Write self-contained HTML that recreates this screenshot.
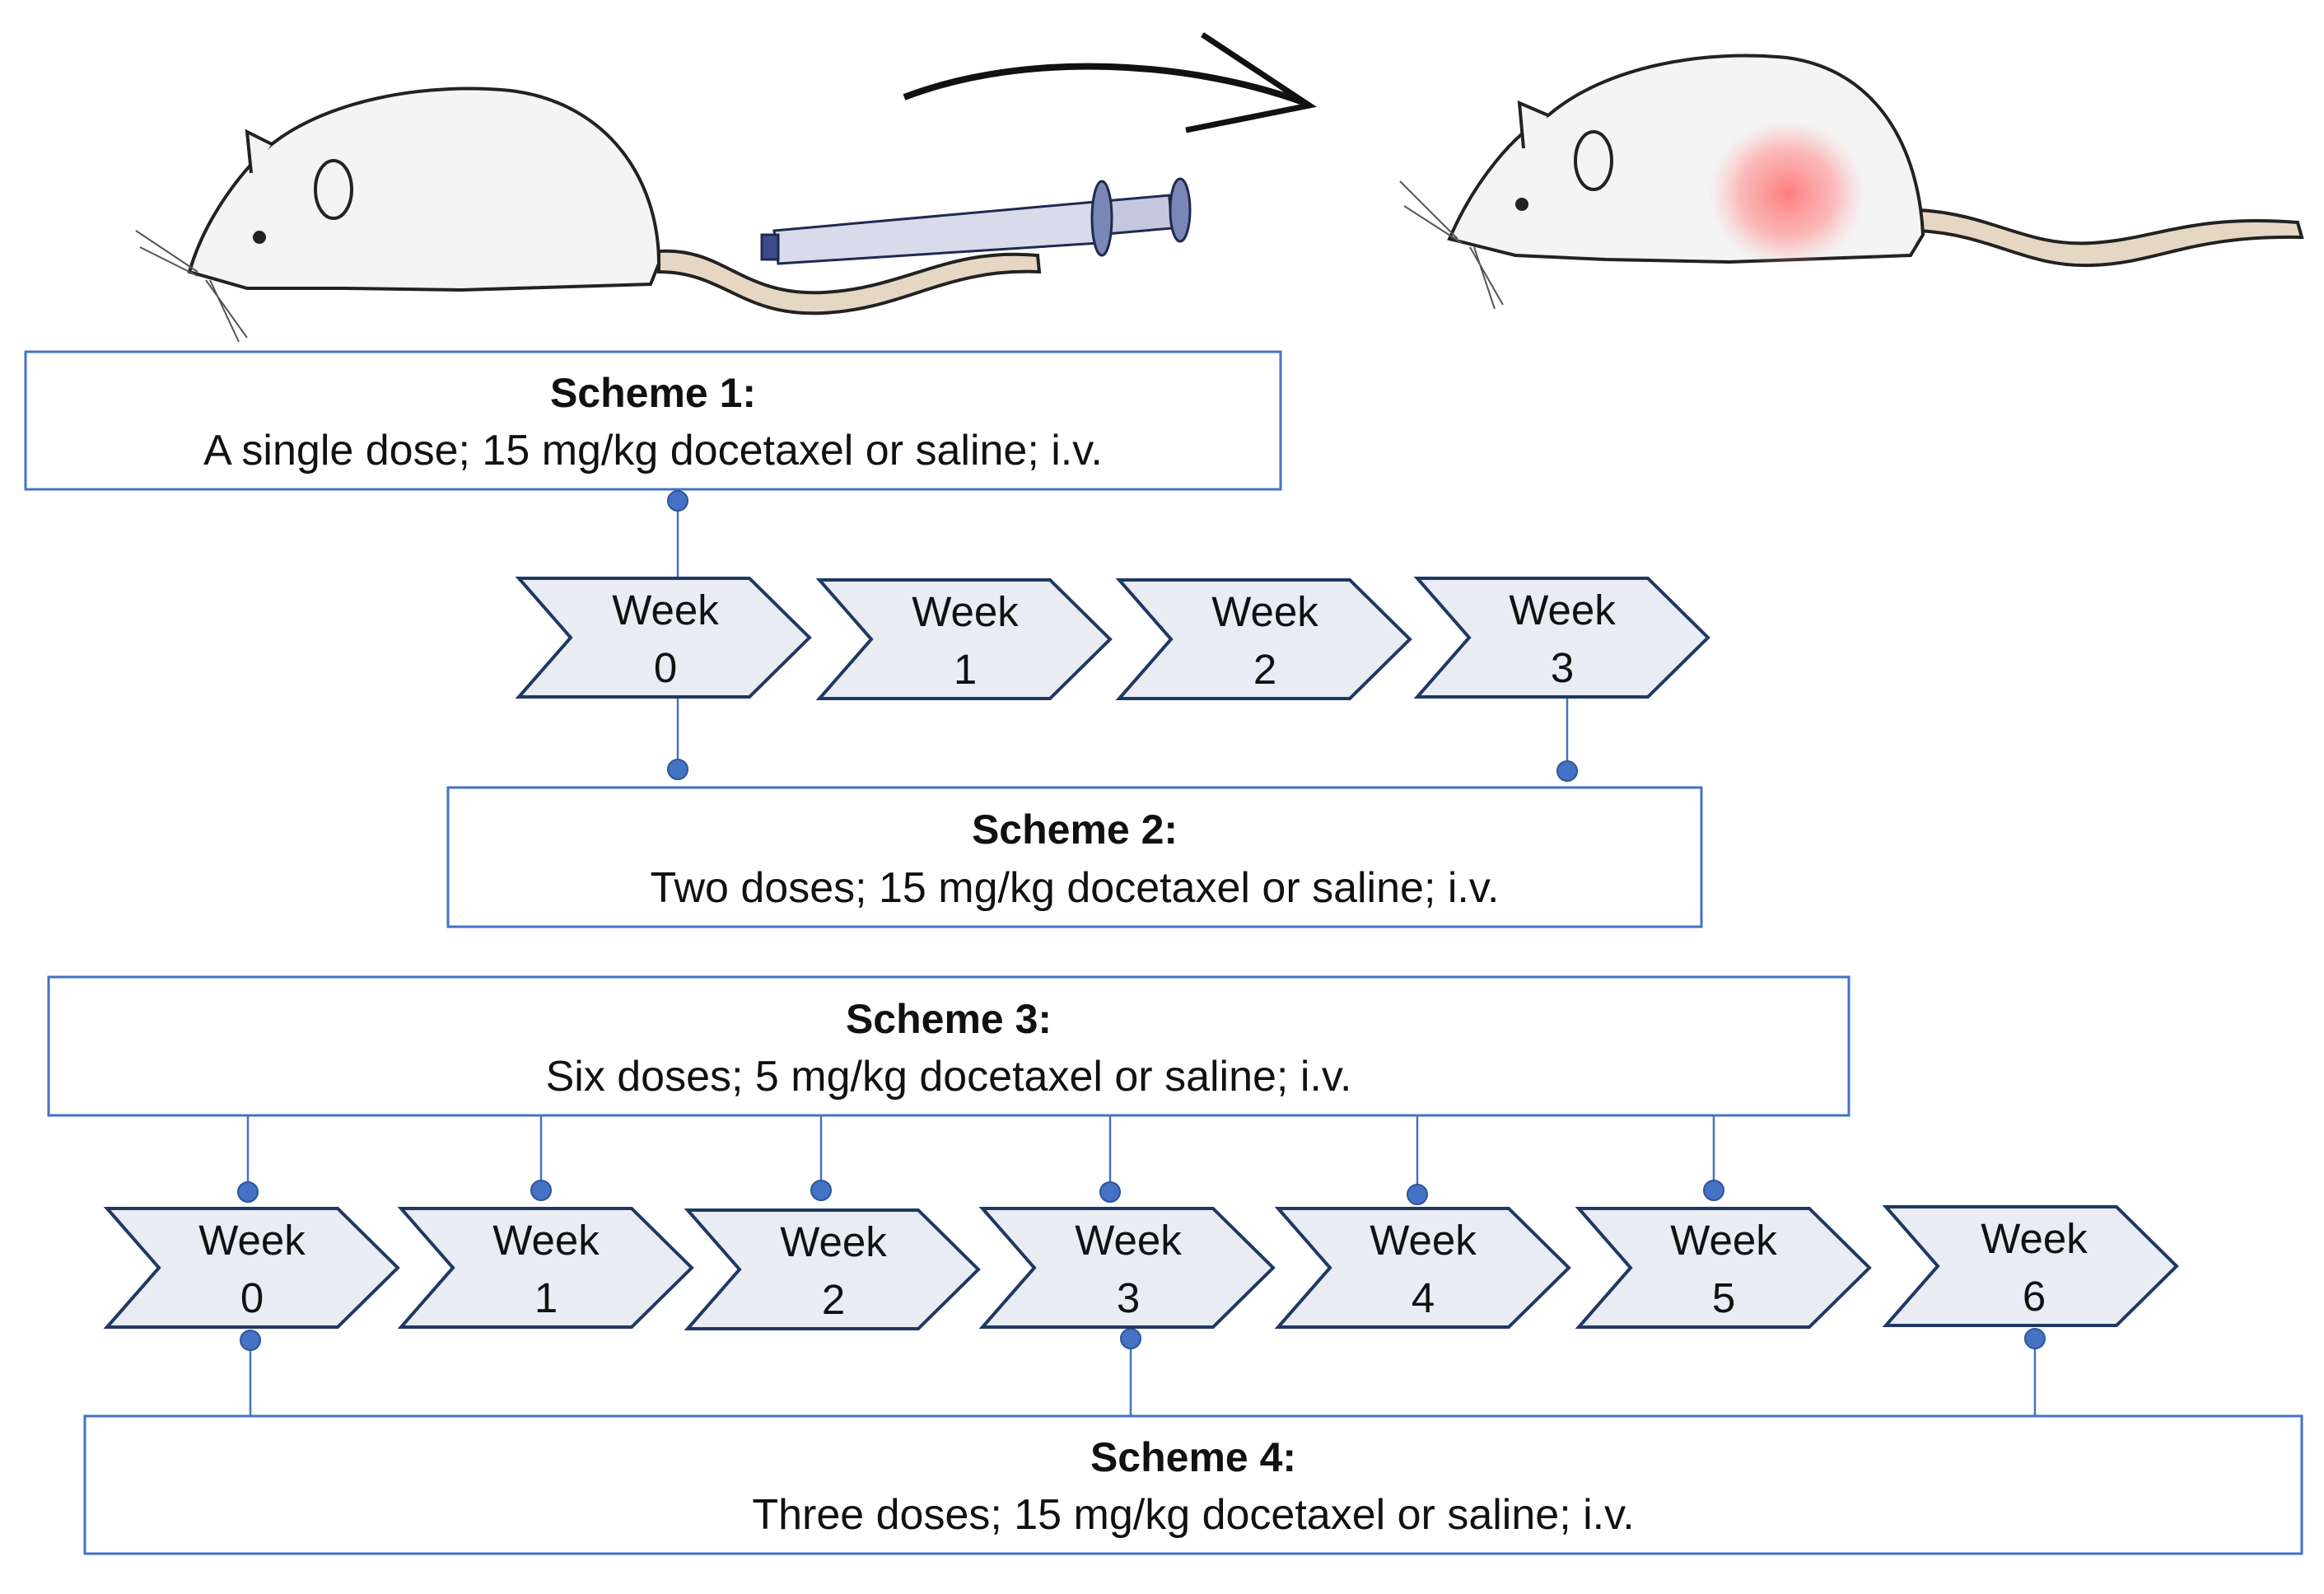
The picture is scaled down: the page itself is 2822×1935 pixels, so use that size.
<!DOCTYPE html>
<html><head><style>html,body{margin:0;padding:0;background:#fff}svg{display:block}</style></head>
<body>
<svg width="2822" height="1935" viewBox="0 0 2822 1935" xmlns="http://www.w3.org/2000/svg" font-family="Liberation Sans, sans-serif">
<defs>
<radialGradient id="tum" cx="0.5" cy="0.5" r="0.5"><stop offset="0" stop-color="#ff7070" stop-opacity="0.9"/><stop offset="0.6" stop-color="#ff9090" stop-opacity="0.6"/><stop offset="1" stop-color="#ffb0b0" stop-opacity="0"/></radialGradient>
<g id="chev"><path d="M0,0 H280 L353,72 L280,144 H0 L63,72 Z" fill="#e9ecf3" stroke="#1f3864" stroke-width="4"/></g>
</defs>
<g stroke="#222" stroke-width="4" fill="#f4f4f4">
<path d="M800,305 C880,300 900,360 1000,355 C1100,350 1150,300 1260,310 L1262,330 C1150,325 1100,375 1000,380 C900,385 880,330 800,330 Z" fill="#e6d7c4"/>
<path d="M230,330 C250,260 300,200 330,175 C400,120 520,100 620,110 C740,125 800,220 800,320 L790,345 L560,352 L420,350 L300,350 Z"/>
<path d="M330,175 L300,160 L305,210" />
<ellipse cx="405" cy="230" rx="22" ry="35"/>
</g>
<circle cx="315" cy="288" r="8" fill="#222"/>
<g stroke="#555" stroke-width="2" fill="none"><path d="M240,330 L165,280 M240,335 L170,300 M250,340 L300,410 M255,340 L290,415"/></g>
<g stroke="#1f2a50" stroke-width="3">
<path d="M940,280 L1330,245 L1335,295 L945,320 Z" fill="#d8dbea"/>
<rect x="1330" y="245" width="90" height="40" fill="#c4c8de" transform="rotate(-5 1330 245)"/>
<ellipse cx="1338" cy="265" rx="12" ry="45" fill="#7a86b5"/>
<ellipse cx="1433" cy="255" rx="12" ry="38" fill="#7a86b5"/>
<rect x="925" y="285" width="20" height="30" fill="#3b4a8a"/>
</g>
<path d="M1098,118 C1250,60 1450,75 1585,125" fill="none" stroke="#111" stroke-width="8"/>
<path d="M1460,42 L1590,128 L1440,158" fill="none" stroke="#111" stroke-width="7"/>
<g stroke="#222" stroke-width="4" fill="#f4f4f4">
<path d="M2330,255 C2420,260 2460,300 2540,295 C2620,290 2660,260 2790,270 L2795,288 C2660,285 2620,320 2540,322 C2460,325 2420,285 2330,280 Z" fill="#e6d7c4"/>
<path d="M1760,290 C1790,220 1840,160 1880,140 C1950,80 2070,60 2170,70 C2280,85 2330,180 2335,285 L2320,310 L2100,318 L1950,315 L1840,310 Z"/>
<path d="M1880,140 L1845,125 L1850,180"/>
<ellipse cx="1935" cy="195" rx="22" ry="35"/>
</g>
<ellipse cx="2170" cy="235" rx="95" ry="90" fill="url(#tum)"/>
<circle cx="1848" cy="248" r="8" fill="#222"/>
<g stroke="#555" stroke-width="2" fill="none"><path d="M1770,290 L1700,220 M1775,295 L1705,250 M1785,300 L1825,370 M1790,300 L1815,375"/></g>

<g fill="#fff" stroke="#4472c4" stroke-width="3">
<rect x="31" y="427" width="1524" height="167"/>
<rect x="544" y="956" width="1522" height="169"/>
<rect x="59" y="1186" width="2186" height="168"/>
<rect x="103" y="1719" width="2692" height="167"/>
</g>
<g font-size="52" text-anchor="middle" fill="#111">
<text x="793" y="494" font-weight="bold" font-size="50">Scheme 1:</text>
<text x="793" y="564">A single dose; 15 mg/kg docetaxel or saline; i.v.</text>
<text x="1305" y="1024" font-weight="bold" font-size="50">Scheme 2:</text>
<text x="1305" y="1095">Two doses; 15 mg/kg docetaxel or saline; i.v.</text>
<text x="1152" y="1254" font-weight="bold" font-size="50">Scheme 3:</text>
<text x="1152" y="1324">Six doses; 5 mg/kg docetaxel or saline; i.v.</text>
<text x="1449" y="1786" font-weight="bold" font-size="50">Scheme 4:</text>
<text x="1449" y="1856">Three doses; 15 mg/kg docetaxel or saline; i.v.</text>
</g>

<g stroke="#4472c4" stroke-width="2.5">
<line x1="823" y1="608" x2="823" y2="702"/>
<line x1="823" y1="846" x2="823" y2="934"/>
<line x1="1903" y1="846" x2="1903" y2="936"/>
<line x1="301" y1="1354" x2="301" y2="1447"/>
<line x1="657" y1="1354" x2="657" y2="1445"/>
<line x1="997" y1="1354" x2="997" y2="1445"/>
<line x1="1348" y1="1354" x2="1348" y2="1447"/>
<line x1="1721" y1="1354" x2="1721" y2="1450"/>
<line x1="2081" y1="1354" x2="2081" y2="1445"/>
<line x1="304" y1="1627" x2="304" y2="1719"/>
<line x1="1373" y1="1625" x2="1373" y2="1719"/>
<line x1="2471" y1="1625" x2="2471" y2="1719"/>
</g>
<g fill="#4472c4" stroke="#2f5597" stroke-width="2">
<circle cx="823" cy="608" r="12"/><circle cx="823" cy="934" r="12"/><circle cx="1903" cy="936" r="12"/>
<circle cx="301" cy="1447" r="12"/><circle cx="657" cy="1445" r="12"/><circle cx="997" cy="1445" r="12"/>
<circle cx="1348" cy="1447" r="12"/><circle cx="1721" cy="1450" r="12"/><circle cx="2081" cy="1445" r="12"/>
<circle cx="304" cy="1627" r="12"/><circle cx="1373" cy="1625" r="12"/><circle cx="2471" cy="1625" r="12"/>
</g>

<g font-size="51" text-anchor="middle" fill="#111">
<use href="#chev" x="630" y="702"/><text x="808" y="758">Week</text><text x="808" y="828">0</text>
<use href="#chev" x="995" y="704"/><text x="1172" y="760">Week</text><text x="1172" y="830">1</text>
<use href="#chev" x="1359" y="704"/><text x="1536" y="760">Week</text><text x="1536" y="830">2</text>
<use href="#chev" x="1721" y="702"/><text x="1897" y="758">Week</text><text x="1897" y="828">3</text>
<use href="#chev" x="130" y="1467"/><text x="306" y="1523">Week</text><text x="306" y="1593">0</text>
<use href="#chev" x="487" y="1467"/><text x="663" y="1523">Week</text><text x="663" y="1593">1</text>
<use href="#chev" x="835" y="1469"/><text x="1012" y="1525">Week</text><text x="1012" y="1595">2</text>
<use href="#chev" x="1193" y="1467"/><text x="1370" y="1523">Week</text><text x="1370" y="1593">3</text>
<use href="#chev" x="1552" y="1467"/><text x="1728" y="1523">Week</text><text x="1728" y="1593">4</text>
<use href="#chev" x="1917" y="1467"/><text x="2093" y="1523">Week</text><text x="2093" y="1593">5</text>
<use href="#chev" x="2290" y="1465"/><text x="2470" y="1521">Week</text><text x="2470" y="1591">6</text>
</g>
</svg>
</body></html>
